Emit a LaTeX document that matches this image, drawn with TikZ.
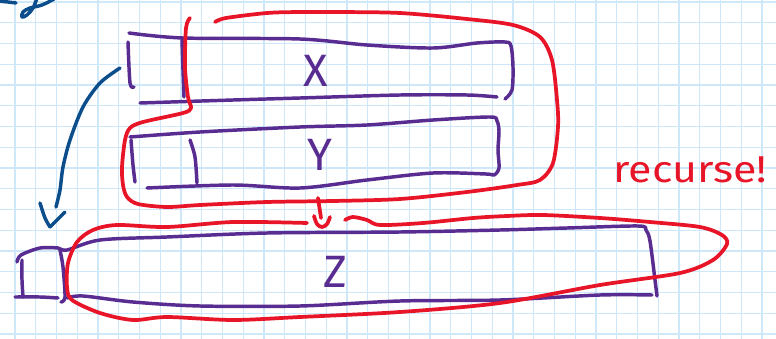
\documentclass[tikz,border=0pt]{standalone}
\usepackage{fontspec}
\setmainfont{Fira Sans}
\definecolor{pen}{RGB}{88,44,145}
\definecolor{redpen}{RGB}{232,20,40}
\definecolor{bluepen}{RGB}{12,78,140}
\definecolor{gridblue}{RGB}{206,232,250}
\tikzset{
  gridline/.style={draw=gridblue, line width=1.1pt},
  purplestroke/.style={draw=pen, line width=2.6pt, line cap=round, line join=round},
  redstroke/.style={draw=redpen, line width=2.8pt, line cap=round, line join=round},
  bluestroke/.style={draw=bluepen, line width=2.6pt, line cap=round, line join=round},
  lbl/.style={text=pen, font=\fontsize{34}{34}\selectfont, inner sep=0pt},
  rec/.style={text=redpen, font=\fontsize{28}{28}\selectfont, inner sep=0pt, xscale=1.15}
}
\begin{document}
\begin{tikzpicture}[x=0.75pt, y=-0.75pt]
\useasboundingbox (0,0) rectangle (776,339);
\fill[white] (0,0) rectangle (776,339);
\begin{scope}
\clip (0,0) rectangle (776,339);
\foreach \i in {0,...,37} \draw[gridline] ({15+20.75*\i},0) -- ({15+20.75*\i},339);
\foreach \j in {0,...,16} \draw[gridline] (0,{2+20.75*\j}) -- (776,{2+20.75*\j});
% top-left fragment of handwriting
\draw[bluestroke] plot[smooth, tension=0.6] coordinates {(-2,1) (8,2) (16,3)};
\draw[bluestroke] plot[smooth, tension=0.6] coordinates {(37,-2) (33,8) (27,15) (22,17) (23,12) (30,8) (42,5) (54,-1)};
\end{scope}

% ---- box X ----
\draw[purplestroke] plot[smooth, tension=0.5] coordinates {(129,33) (183,38) (300,39) (367,45) (433,48) (477,43) (505,42) (511,46) (513,67) (512,90) (505,99)};
\draw[purplestroke] plot[smooth, tension=0.5] coordinates {(140,103) (233,100) (300,98) (400,95) (467,95) (497,97)};
\draw[purplestroke] plot[smooth, tension=0.5] coordinates {(128,42) (130,83) (134,87)};
\draw[purplestroke] plot[smooth, tension=0.5] coordinates {(182,40) (183,70) (184,97)};
\node[lbl] (lx) at (316,71) {X};

% ---- box Y ----
\draw[purplestroke] plot[smooth, tension=0.5] coordinates {(130,137) (200,132) (300,127) (367,125) (433,120) (490,117) (497,121) (499,131) (498,150) (499,168) (494,175) (486,174) (433,173) (367,180) (300,188) (233,185) (147,188)};
\draw[purplestroke] plot[smooth, tension=0.5] coordinates {(131,140) (133,165) (135,182)};
\draw[purplestroke] plot[smooth, tension=0.5] coordinates {(190,140) (195,157) (197,183)};
\node[lbl] (ly) at (320,155) {Y};

% ---- box Z ----
\draw[purplestroke] plot[smooth, tension=0.5] coordinates {(17,262) (21,255) (40,248) (58,248) (67,250) (100,240) (167,237) (267,233) (400,232) (500,230) (567,228) (638,226) (646,230) (650,241) (655,280) (657,296)};
\draw[purplestroke] plot[smooth, tension=0.5] coordinates {(652,295) (600,295) (500,300) (400,301) (300,306) (200,306) (133,302) (83,296) (67,298)};
\draw[purplestroke] plot[smooth, tension=0.5] coordinates {(22,260) (22,280) (23,297)};
\draw[purplestroke] plot[smooth, tension=0.5] coordinates {(15,297) (40,297) (58,298)};
\draw[purplestroke] plot[smooth, tension=0.5] coordinates {(60,250) (63,267) (65,297) (61,302)};
\node[lbl] (lz) at (335,272) {Z};

% ---- red outline around X and Y ----
\draw[redstroke] plot[smooth, tension=0.5] coordinates {(190,18) (186,28) (185,67) (188,97) (191,108) (183,113) (143,122) (130,128) (125,140) (122,167) (123,185) (127,197) (138,204) (167,207) (200,205) (267,202) (333,201) (400,199) (467,192) (517,185) (540,180) (553,163) (558,127) (557,100) (552,60) (540,37) (513,25) (467,19) (400,13) (333,12) (300,12) (267,13) (226,18) (215,22)};

% ---- small red arrow ----
\coordinate (rtop) at (318,198);
\coordinate (rbot) at (321,218);
\draw[redstroke] (rtop) -- (rbot);
\draw[redstroke] plot[smooth, tension=0.6] coordinates {(314,216) (317,224) (322,227) (327,224) (330,217)};

% ---- red outline around Z ----
\draw[redstroke] plot[smooth, tension=0.5] coordinates {(307,223) (233,222) (167,227) (117,225) (93,230) (77,242) (68,263) (67,287) (72,300) (100,313) (133,320) (167,317) (233,320) (300,317) (400,312) (500,303) (600,285) (680,273) (713,260) (727,244) (722,235) (700,227) (650,222) (600,218) (543,215) (507,216) (473,218) (423,223) (380,225) (367,220) (353,217) (345,220)};

\node[rec, anchor=base west] (lrec) at (613,182) {recurse!};

% ---- blue arrow ----
\coordinate (bstart) at (120,68);
\coordinate (btip) at (50,227);
\draw[bluestroke] plot[smooth, tension=0.5] coordinates {(bstart) (100,83) (83,107) (70,140) (63,167) (60,190) (56,207)};
\draw[bluestroke] plot[smooth, tension=0.5] coordinates {(40,203) (45,218) (btip)};
\draw[bluestroke] (btip) -- (65,212);
\end{tikzpicture}
\end{document}
